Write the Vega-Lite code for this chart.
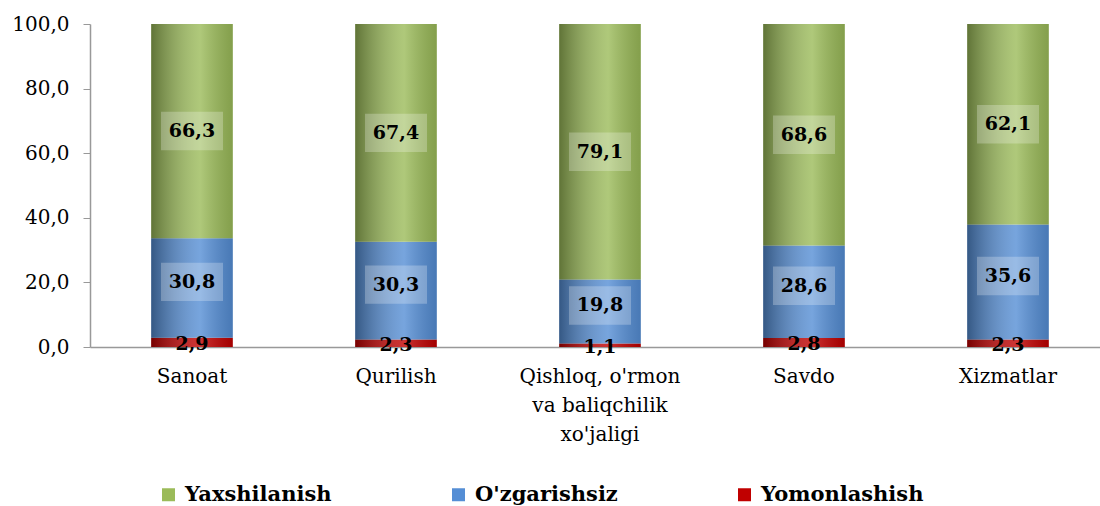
{
  "$schema": "https://vega.github.io/schema/vega-lite/v6.json",
  "width": 1010,
  "height": 323,
  "autosize": {"type": "none"},
  "padding": {"left": 90, "top": 24, "right": 0, "bottom": 159},
  "background": "white",
  "config": {
    "view": {"stroke": null},
    "font": "DejaVu Serif",
    "text": {"font": "DejaVu Serif"},
    "axis": {"labelFont": "DejaVu Serif"},
    "legend": {"labelFont": "DejaVu Serif"},
    "locale": {"number": {"decimal": ",", "thousands": " ", "grouping": [3], "currency": ["", ""]}}
  },
  "data": {
    "values": [
      {"cat": "Sanoat", "series": "Yomonlashish", "rank": 1, "value": 2.9},
      {"cat": "Sanoat", "series": "O'zgarishsiz", "rank": 2, "value": 30.8},
      {"cat": "Sanoat", "series": "Yaxshilanish", "rank": 3, "value": 66.3},
      {"cat": "Qurilish", "series": "Yomonlashish", "rank": 1, "value": 2.3},
      {"cat": "Qurilish", "series": "O'zgarishsiz", "rank": 2, "value": 30.3},
      {"cat": "Qurilish", "series": "Yaxshilanish", "rank": 3, "value": 67.4},
      {"cat": "Qishloq, o'rmon|va baliqchilik|xo'jaligi", "series": "Yomonlashish", "rank": 1, "value": 1.1},
      {"cat": "Qishloq, o'rmon|va baliqchilik|xo'jaligi", "series": "O'zgarishsiz", "rank": 2, "value": 19.8},
      {"cat": "Qishloq, o'rmon|va baliqchilik|xo'jaligi", "series": "Yaxshilanish", "rank": 3, "value": 79.1},
      {"cat": "Savdo", "series": "Yomonlashish", "rank": 1, "value": 2.8},
      {"cat": "Savdo", "series": "O'zgarishsiz", "rank": 2, "value": 28.6},
      {"cat": "Savdo", "series": "Yaxshilanish", "rank": 3, "value": 68.6},
      {"cat": "Xizmatlar", "series": "Yomonlashish", "rank": 1, "value": 2.3},
      {"cat": "Xizmatlar", "series": "O'zgarishsiz", "rank": 2, "value": 35.6},
      {"cat": "Xizmatlar", "series": "Yaxshilanish", "rank": 3, "value": 62.1}
    ]
  },
  "transform": [
    {"stack": "value", "groupby": ["cat"], "sort": [{"field": "rank", "order": "ascending"}], "as": ["v0", "v1"]},
    {"calculate": "(datum.v0 + datum.v1) / 2", "as": "mid"}
  ],
  "encoding": {
    "x": {
      "field": "cat",
      "type": "nominal",
      "sort": null,
      "scale": {"paddingInner": 0.6, "paddingOuter": 0.3, "range": [0, 1020]},
      "axis": {
        "title": null,
        "labelAngle": 0,
        "labelExpr": "split(datum.label, '|')",
        "labelFontSize": 20,
        "labelColor": "#000000",
        "labelPadding": 19,
        "labelLineHeight": 29,
        "labelLimit": 400,
        "ticks": false,
        "domainColor": "#999999",
        "domainWidth": 1.5
      }
    }
  },
  "layer": [
    {
      "mark": {"type": "bar"},
      "encoding": {
        "y": {
          "field": "v0",
          "type": "quantitative",
          "scale": {"domain": [0, 100], "nice": false},
          "axis": {
            "title": null,
            "values": [0, 20, 40, 60, 80, 100],
            "format": ".1f",
            "labelFontSize": 20,
            "labelColor": "#000000",
            "labelPadding": 14,
            "tickSize": 7,
            "tickColor": "#999999",
            "domainColor": "#999999",
            "domainWidth": 1.5,
            "grid": false
          }
        },
        "y2": {"field": "v1"},
        "color": {
          "field": "series",
          "type": "nominal",
          "scale": {
            "domain": ["Yaxshilanish", "O'zgarishsiz", "Yomonlashish"],
            "range": ["#9BBB59", "#558ED5", "#C00000"]
          },
          "legend": {
            "title": null,
            "orient": "none",
            "legendX": 68,
            "legendY": 460,
            "direction": "horizontal",
            "symbolType": "square",
            "symbolSize": 169,
            "symbolStrokeWidth": 0,
            "labelFontSize": 21,
            "labelFontWeight": "bold",
            "labelColor": "#000000",
            "labelOffset": 6,
            "columnPadding": 116,
            "labelLimit": 300
          }
        }
      }
    },
    {
      "mark": {
        "type": "bar",
        "fill": {
          "gradient": "linear",
          "x1": 0, "x2": 1, "y1": 0, "y2": 0,
          "stops": [
            {"offset": 0, "color": "rgba(0,0,0,0.38)"},
            {"offset": 0.6, "color": "rgba(255,255,255,0.2)"},
            {"offset": 1, "color": "rgba(0,0,0,0.15)"}
          ]
        }
      },
      "encoding": {
        "y": {"field": "v0", "type": "quantitative"},
        "y2": {"field": "v1"},
        "detail": {"field": "series"}
      }
    },
    {
      "transform": [{"filter": "datum.series === 'Yaxshilanish'"}],
      "mark": {"type": "point", "shape": "M-1,-0.62H1V0.62H-1Z", "size": 3844, "filled": true, "fill": "#ffffff", "fillOpacity": 0.25, "strokeWidth": 0},
      "encoding": {"y": {"field": "mid", "type": "quantitative"}}
    },
    {
      "transform": [{"filter": "datum.series === \"O'zgarishsiz\""}],
      "mark": {"type": "point", "shape": "M-1,-0.62H1V0.62H-1Z", "size": 3844, "filled": true, "fill": "#ffffff", "fillOpacity": 0.25, "strokeWidth": 0, "yOffset": -6},
      "encoding": {"y": {"field": "mid", "type": "quantitative"}}
    },
    {
      "transform": [{"filter": "datum.series === 'Yaxshilanish'"}],
      "mark": {"type": "text", "fontSize": 19, "fontWeight": "bold", "color": "#000000", "baseline": "middle"},
      "encoding": {"y": {"field": "mid", "type": "quantitative"}, "text": {"field": "value", "type": "quantitative", "format": ".1f"}}
    },
    {
      "transform": [{"filter": "datum.series === \"O'zgarishsiz\""}],
      "mark": {"type": "text", "fontSize": 19, "fontWeight": "bold", "color": "#000000", "baseline": "middle", "yOffset": -6},
      "encoding": {"y": {"field": "mid", "type": "quantitative"}, "text": {"field": "value", "type": "quantitative", "format": ".1f"}}
    },
    {
      "transform": [{"filter": "datum.series === 'Yomonlashish'"}],
      "mark": {"type": "text", "fontSize": 19, "fontWeight": "bold", "color": "#000000", "baseline": "middle", "yOffset": 2},
      "encoding": {"y": {"field": "mid", "type": "quantitative"}, "text": {"field": "value", "type": "quantitative", "format": ".1f"}}
    }
  ]
}
